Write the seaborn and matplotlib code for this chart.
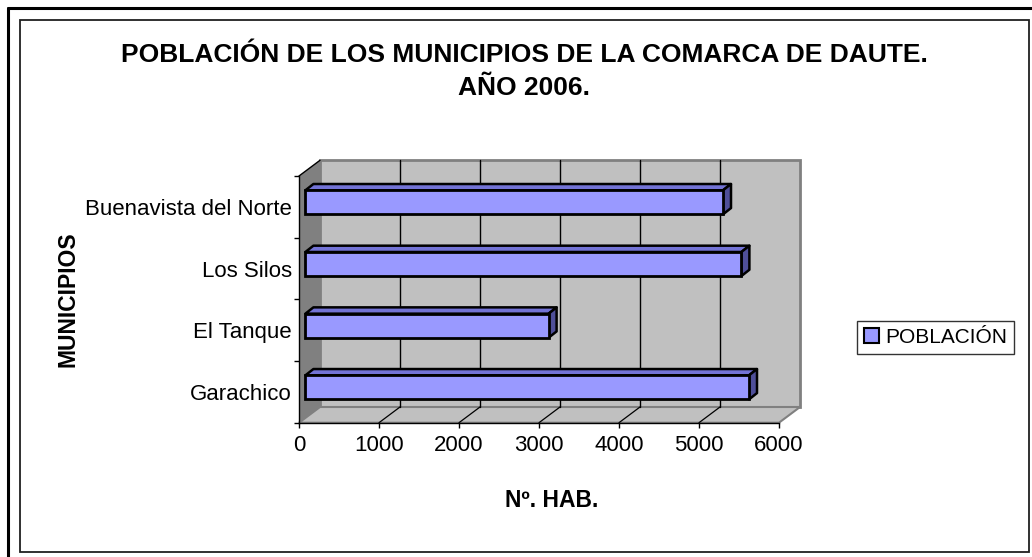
import matplotlib
matplotlib.use('Agg')
import matplotlib.pyplot as plt
import matplotlib.patches as mpatches
from matplotlib.lines import Line2D
import seaborn as sns
import pandas as pd

# data
municipios = ['Buenavista del Norte', 'Los Silos', 'El Tanque', 'Garachico']
poblacion = [5220, 5450, 3040, 5545]
x_ticks = [0, 1000, 2000, 3000, 4000, 5000, 6000]
titulo = ['POBLACIÓN DE LOS MUNICIPIOS DE LA COMARCA DE DAUTE.', 'AÑO 2006.']
serie = 'POBLACIÓN'

W, H, DPI = 1032, 557, 100
FONT = ['Liberation Sans Narrow', 'Liberation Sans', 'DejaVu Sans']

sns.set_theme(style='white')
plt.rcParams['font.family'] = FONT


def fx(px):
    return px / W


def fy(py):
    return 1 - py / H


fig = plt.figure(figsize=(W / DPI, H / DPI), dpi=DPI)
fig.patch.set_facecolor('white')

# outer frame (cut off at right/bottom) and inner chart border
fig.add_artist(Line2D([fx(8), 1], [fy(8), fy(8)], color='black', lw=2.2))
fig.add_artist(Line2D([fx(8), fx(8)], [fy(8), 0], color='black', lw=2.2))
fig.add_artist(mpatches.Rectangle((fx(20), fy(552)), fx(1029) - fx(20), fy(20) - fy(552),
                                  fill=False, ec='#202020', lw=1.3))

# front plane of the plot area
ax_l, ax_r, ax_t, ax_b = 299, 779, 176, 422.7
ax = fig.add_axes([fx(ax_l), fy(ax_b), fx(ax_r) - fx(ax_l), fy(ax_t) - fy(ax_b)])
ax.patch.set_alpha(0)

xmax = x_ticks[-1]
ncat = len(municipios)
ux = xmax / (ax_r - ax_l)      # data units per pixel
uy = ncat / (ax_b - ax_t)

# depth of the 3D box and of the bars (pixels)
WX, WY = 21 * ux, 15.7 * uy
BX, BY = 6.4 * ux, 4.5 * uy
DX, DY = 8 * ux, 6.3 * uy

y_lo, y_hi = -0.5, ncat - 0.5

# walls and floor
left_wall = mpatches.Polygon([(0, y_hi), (0, y_lo), (WX, y_lo - WY), (WX, y_hi - WY)],
                             fc='#808080', ec='none', clip_on=False, zorder=0)
back_wall = mpatches.Rectangle((WX, y_lo - WY), xmax, y_hi - y_lo,
                               fc='#C0C0C0', ec='#808080', lw=2, clip_on=False, zorder=0)
floor = mpatches.Polygon([(0, y_hi), (xmax, y_hi), (xmax + WX, y_hi - WY), (WX, y_hi - WY)],
                         fc='#C0C0C0', ec='#808080', lw=1.5, clip_on=False, zorder=0.5)
for p in (back_wall, left_wall, floor):
    ax.add_patch(p)
ax.plot([0, WX], [y_lo, y_lo - WY], color='black', lw=1, clip_on=False, zorder=1)

for xv in x_ticks[1:-1]:
    ax.plot([xv + WX, xv + WX], [y_lo - WY, y_hi - WY], color='black', lw=1,
            clip_on=False, zorder=1)
    ax.plot([xv, xv + WX], [y_hi, y_hi - WY], color='black', lw=0.9,
            clip_on=False, zorder=1)

# bars
df = pd.DataFrame({'municipio': municipios, 'poblacion': poblacion})
sns.barplot(data=df, x='poblacion', y='municipio', order=municipios, color='#9999FF',
            saturation=1, width=0.39, edgecolor='black', linewidth=2, ax=ax, zorder=5)

for p in list(ax.patches):
    if not isinstance(p, mpatches.Rectangle) or p is back_wall:
        continue
    p.set_x(p.get_x() + BX)
    p.set_y(p.get_y() - BY)
    x0, x1 = p.get_x(), p.get_x() + p.get_width()
    y0, y1 = p.get_y(), p.get_y() + p.get_height()
    top = mpatches.Polygon([(x0, y0), (x1, y0), (x1 + DX, y0 - DY), (x0 + DX, y0 - DY)],
                           fc='#7373D6', ec='black', lw=1.8, joinstyle='round', zorder=4.9)
    side = mpatches.Polygon([(x1, y0), (x1 + DX, y0 - DY), (x1 + DX, y1 - DY), (x1, y1)],
                            fc='#4F4F99', ec='black', lw=1.8, joinstyle='round', zorder=4.9)
    ax.add_patch(top)
    ax.add_patch(side)

ax.set_xlim(0, xmax)
ax.set_ylim(y_hi, y_lo)
ax.set_xticks(x_ticks)
ax.set_xticklabels([str(v) for v in x_ticks])
ax.set_yticks([i - 0.5 for i in range(ncat + 1)], minor=True)
ax.set_xlabel('')
ax.set_ylabel('')

for side_name in ('top', 'right'):
    ax.spines[side_name].set_visible(False)
for side_name in ('left', 'bottom'):
    ax.spines[side_name].set_color('black')
    ax.spines[side_name].set_linewidth(1)
    ax.spines[side_name].set_zorder(2)

ax.tick_params(axis='x', which='major', bottom=True, direction='out', length=3.6,
               width=1, color='black', labelsize=16, pad=5, labelcolor='black')
ax.tick_params(axis='y', which='major', left=False, length=0, labelsize=16,
               pad=5, labelcolor='black')
ax.tick_params(axis='y', which='minor', left=True, direction='out', length=3.6,
               width=1, color='black')

# titles
fig.text(fx(524), fy(61.7), titulo[0], ha='center', va='baseline', fontsize=19,
         fontweight='bold', color='black')
fig.text(fx(524), fy(95), titulo[1], ha='center', va='baseline', fontsize=19,
         fontweight='bold', color='black')
fig.text(fx(552), fy(507), 'Nº. HAB.', ha='center', va='baseline', fontsize=16.5,
         fontweight='bold', color='black')
fig.text(fx(68), fy(299), 'MUNICIPIOS', ha='center', va='center', rotation=90,
         fontsize=16.5, fontweight='bold', color='black')

# legend
handle = mpatches.Patch(facecolor='#9999FF', edgecolor='black', lw=1.5, label=serie)
leg = fig.legend(handles=[handle], loc='center left', bbox_to_anchor=(fx(857), fy(337.5)),
                 frameon=True, fancybox=False, edgecolor='black', fontsize=15,
                 handlelength=0.7, handleheight=0.7, handletextpad=0.3,
                 borderpad=0.35, borderaxespad=0)
leg.get_frame().set_linewidth(1)
for t in leg.get_texts():
    t.set_color('black')

fig.savefig('out.png', dpi=DPI, facecolor='white')
